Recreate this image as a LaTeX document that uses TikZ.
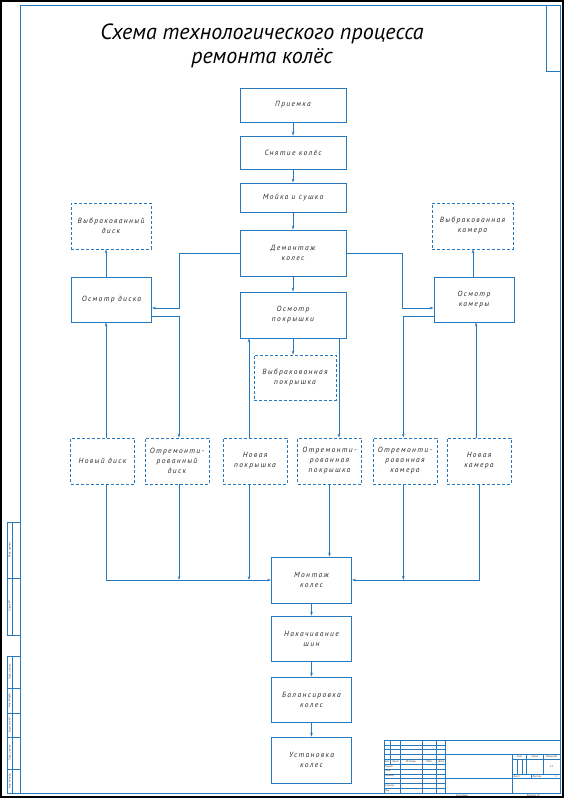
\documentclass[tikz,border=0pt]{standalone}
\usepackage{fontspec}
\setmainfont{PT Sans}
\newfontfamily\gostfont[LetterSpace=18]{PT Sans}
\usetikzlibrary{arrows.meta, positioning, calc}
\definecolor{lineblue}{RGB}{40,120,190}
\definecolor{textgray}{RGB}{40,40,40}

\begin{document}
\begin{tikzpicture}[
	x=1pt, y=-1pt,
	block/.style={rectangle, draw=lineblue, line width=0.8pt, minimum width=80pt, minimum height=46pt, align=center, inner sep=1pt, text=textgray, font=\gostfont\itshape\fontsize{7.5}{10}\selectfont},
	dblock/.style={block, dash pattern=on 3pt off 2pt, minimum width=64pt},
	cblock/.style={block, minimum width=106pt},
	arrow/.style={-{Stealth[length=4pt, width=2.6pt]}, draw=lineblue, line width=0.7pt},
	sheetframe/.style={draw=lineblue, line width=0.9pt},
	gridline/.style={draw=lineblue, line width=0.45pt},
	smalltext/.style={font=\itshape\fontsize{2.6}{3}\selectfont, text=textgray, inner sep=0pt}
	]
	\useasboundingbox (0,0) rectangle (566,800);
	% sheet frame
	\draw[black, line width=1.2pt] (1,1) rectangle (563,797);
	\draw[sheetframe] (20,5) rectangle (560,793);
	\draw[sheetframe] (546,5) -- (546,71) -- (560,71);
	% left strip
	\draw[sheetframe] (7,522) rectangle (20,635);
	\draw[gridline] (7,578) -- (20,578) (12.5,522) -- (12.5,635);
	\draw[sheetframe] (7,656) rectangle (20,793);
	\foreach \y in {688,713,737,769}
		\draw[gridline] (7,\y) -- (20,\y);
	\draw[gridline] (12.5,656) -- (12.5,793);
	\node[smalltext, rotate=90] (perv) at (9.8,550) {Перв. примен.};
	\node[smalltext, rotate=90] (sprav) at (9.8,606) {Справ. №};
	\node[smalltext, rotate=90] (podp1) at (9.8,672) {Подп. и дата};
	\node[smalltext, rotate=90] (dubl) at (9.8,700.5) {Инв. № дубл.};
	\node[smalltext, rotate=90] (vzam) at (9.8,725) {Взам. инв. №};
	\node[smalltext, rotate=90] (podp2) at (9.8,753) {Подп. и дата};
	\node[smalltext, rotate=90] (podl) at (9.8,781) {Инв. № подл.};

	% title block
	\begin{scope}[shift={(384,740)}, x=0.9514pt, y=-0.9636pt]
		\draw[sheetframe] (0,0) rectangle (185,55);
		\foreach \y in {5,10,...,50}
			\draw[gridline] (0,\y) -- (65,\y);
		\draw[gridline] (7,0) -- (7,25);
		\foreach \x in {17,40,55}
			\draw[gridline] (\x,0) -- (\x,55);
		\draw[sheetframe] (65,0) -- (65,55) (65,15) -- (185,15) (135,15) -- (135,55) (65,40) -- (185,40);
		\draw[gridline] (135,20) -- (185,20) (135,35) -- (185,35);
		\draw[gridline] (150,15) -- (150,35) (167,15) -- (167,35) (140,20) -- (140,35) (145,20) -- (145,35) (155,35) -- (155,40);
		\node[smalltext] (izm) at (3.5,22.5) {Изм.};
		\node[smalltext] (list) at (12,22.5) {Лист};
		\node[smalltext] (ndoc) at (28.5,22.5) {№ докум.};
		\node[smalltext] (podp) at (47.5,22.5) {Подп.};
		\node[smalltext] (data) at (60,22.5) {Дата};
		\node[smalltext, anchor=west] (razr) at (0.5,27.5) {Разраб.};
		\node[smalltext, anchor=west] (prov) at (0.5,32.5) {Пров.};
		\node[smalltext, anchor=west] (tkontr) at (0.5,37.5) {Т.контр.};
		\node[smalltext, anchor=west] (nkontr) at (0.5,47.5) {Н.контр.};
		\node[smalltext, anchor=west] (utv) at (0.5,52.5) {Утв.};
		\node[smalltext] (lit) at (142.5,17.5) {Лит.};
		\node[smalltext] (massa) at (158.5,17.5) {Масса};
		\node[smalltext] (masht) at (176,17.5) {Масштаб};
		\node[smalltext] (mval) at (176,27.5) {1:1};
		\node[smalltext, anchor=west] (lst) at (136,37.5) {Лист};
		\node[smalltext, anchor=west] (lstov) at (156,37.5) {Листов};
		\node[smalltext] (lstval) at (181,37.5) {1};
		\node[smalltext] (kopir) at (82,57.5) {Копировал};
		\node[smalltext] (format) at (157,57.5) {Формат A1};
	\end{scope}

	% heading
	\node[font=\itshape\fontsize{22}{24}\selectfont, align=center] (title) at (262,46) {Схема технологического процесса\\ремонта колёс};

	% central column
	\node[cblock, minimum height=34pt] (priem) at (293,105) {Приемка};
	\node[cblock, minimum height=33pt] (snyat) at (293,152.5) {Снятие колёс};
	\node[cblock, minimum height=29pt] (moika) at (293,197.5) {Мойка и сушка};
	\node[cblock] (demont) at (293,253) {Демонтаж\\колес};
	\node[cblock] (osmpok) at (293,315) {Осмотр\\покрышки};
	\node[dblock, minimum width=82pt, minimum height=45pt] (vybpok) at (295,377.5) {Выбракованная\\покрышка};

	% side columns
	\node[dblock, minimum width=80pt] (vybdisk) at (111,226) {Выбракованный\\диск};
	\node[block, minimum height=45pt] (osmdisk) at (111.5,299.5) {Осмотр диска};
	\node[dblock, minimum width=81pt] (vybkam) at (472.5,226) {Выбракованная\\камера};
	\node[block, minimum height=45pt] (osmkam) at (474,299.5) {Осмотр\\камеры};

	% new and repaired parts
	\node[dblock] (novdisk) at (102.5,461) {Новый диск};
	\node[dblock] (remdisk) at (177,461) {Отремонти-\\рованный\\диск};
	\node[dblock] (novpok) at (255,461) {Новая\\покрышка};
	\node[dblock] (rempok) at (329.5,461) {Отремонти-\\рованная\\покрышка};
	\node[dblock] (remkam) at (405,461) {Отремонти-\\рованная\\камера};
	\node[dblock] (novkam) at (479,461) {Новая\\камера};

	% assembly
	\node[block] (montazh) at (311.5,580) {Монтаж\\колес};
	\node[block, minimum height=45pt] (nakach) at (311.5,638.5) {Накачивание\\шин};
	\node[block, minimum height=45pt] (balans) at (311.5,699.5) {Балансировка\\колес};
	\node[block] (ustan) at (311.5,760) {Установка\\колес};

	% line positions
	\coordinate (diskline) at ($(osmdisk.north)+(-5.5,0)$);
	\coordinate (kamline) at ($(osmkam.north)+(-1,0)$);
	\coordinate (novdiskline) at ($(novdisk.north)+(3.5,0)$);
	\coordinate (remdiskline) at ($(remdisk.north)+(2,0)$);
	\coordinate (novpokline) at ($(novpok.north)+(-6,0)$);
	\coordinate (rempokline) at ($(osmpok.south)+(46,0)$);
	\coordinate (remkamline) at ($(remkam.north)+(-1.7,0)$);
	\coordinate (novkamline) at ($(novkam.north)+(-3,0)$);

	% connectors
	\draw[arrow] (priem) -- (snyat);
	\draw[arrow] (snyat) -- (moika);
	\draw[arrow] (moika) -- (demont);
	\draw[arrow] (demont) -- (osmpok);
	\draw[arrow] (osmpok.south) -- (osmpok.south |- vybpok.north);
	\draw[arrow] (demont.west) -| ($(osmdisk.east)+(27.5,8.5)$) -- ($(osmdisk.east)+(0,8.5)$);
	\draw[arrow] (demont.east) -| ($(osmkam.west)+(-31,8.5)$) -- ($(osmkam.west)+(0,8.5)$);
	\draw[arrow] (diskline) -- (diskline |- vybdisk.south);
	\draw[arrow] (kamline) -- (kamline |- vybkam.south);
	\draw[arrow] ($(osmdisk.east)+(0,16.5)$) -| (remdiskline);
	\draw[arrow] ($(osmkam.west)+(0,16.5)$) -| (remkamline);
	\draw[arrow] (novdiskline) -- (novdiskline |- osmdisk.south);
	\draw[arrow] (novpokline |- novpok.north) -- (novpokline |- osmpok.south);
	\draw[arrow] (rempokline) -- (rempokline |- rempok.north);
	\draw[arrow] (novkamline) -- (novkamline |- osmkam.south);
	\draw[arrow] (novdiskline |- novdisk.south) |- (montazh.west);
	\draw[arrow] (remdiskline |- remdisk.south) -- (remdiskline |- montazh.west);
	\draw[arrow] (novpokline |- novpok.south) -- (novpokline |- montazh.west);
	\draw[arrow] (rempok.south) -- (rempok.south |- montazh.north);
	\draw[arrow] (novkam.south) |- (montazh.east);
	\draw[arrow] (remkamline |- remkam.south) -- (remkamline |- montazh.east);
	\draw[arrow] (montazh) -- (nakach);
	\draw[arrow] (nakach) -- (balans);
	\draw[arrow] (balans) -- (ustan);
\end{tikzpicture}
\end{document}
